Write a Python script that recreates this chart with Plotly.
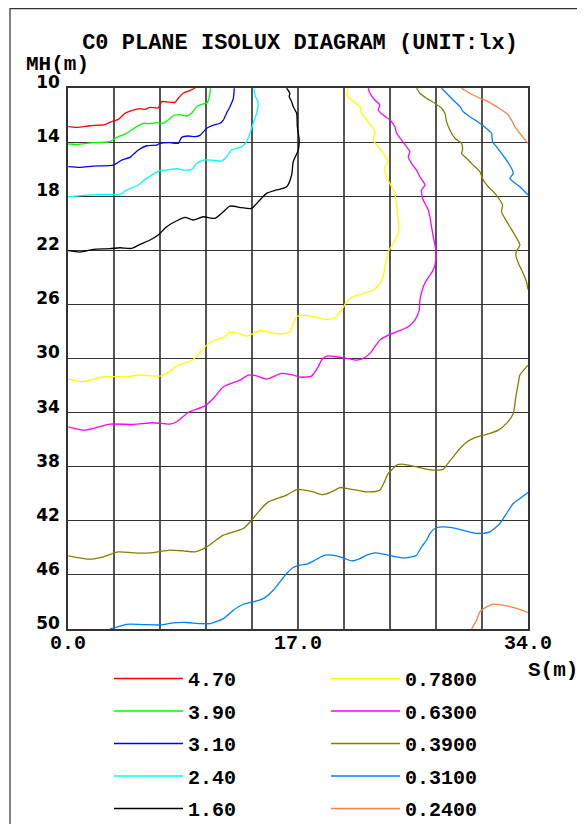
import plotly.graph_objects as go

# ---------------- data ----------------
level_labels = ["4.70", "3.90", "3.10", "2.40", "1.60",
                "0.7800", "0.6300", "0.3900", "0.3100", "0.2400"]
level_colors = ["#FF0000", "#00FF00", "#0000FF", "#00FFFF", "#000000",
                "#FFFF00", "#FF00FF", "#808000", "#0080FF", "#FF8040"]

s_470 = [0.02, 0.64, 1.63, 2.73, 3.10, 3.72, 4.21, 4.70, 5.32, 5.69, 6.06, 6.67, 6.92, 7.41, 7.91, 8.15, 8.52, 9.01, 9.38]
mh_470 = [12.86, 12.91, 12.79, 12.71, 12.54, 12.32, 11.87, 11.68, 11.53, 11.58, 11.43, 11.48, 11.01, 11.04, 11.06, 10.76, 10.39, 10.20, 10.02]

s_390 = [0.02, 0.64, 1.87, 3.10, 3.60, 4.33, 5.07, 5.57, 6.06, 6.55, 7.04, 7.41, 7.78, 8.28, 8.77, 9.14, 9.51, 10.00, 10.25, 10.42, 10.54]
mh_390 = [14.14, 14.17, 14.04, 13.97, 13.65, 13.35, 12.86, 12.61, 12.64, 12.56, 12.61, 12.37, 12.05, 11.97, 12.07, 11.87, 11.38, 11.18, 11.13, 10.76, 10.02]

s_310 = [0.02, 0.89, 1.87, 3.35, 3.97, 4.58, 5.20, 5.81, 6.55, 6.80, 7.54, 8.15, 8.40, 8.89, 9.38, 9.75, 10.25, 10.74, 11.23, 11.48, 11.72, 11.97, 12.22, 12.29]
mh_310 = [15.82, 15.87, 15.77, 15.70, 15.33, 15.13, 14.59, 14.27, 14.22, 14.09, 14.04, 14.09, 13.65, 13.55, 13.60, 13.50, 12.98, 12.74, 12.61, 12.37, 11.87, 11.38, 10.76, 10.02]

s_240 = [0.02, 0.89, 2.36, 3.84, 4.33, 5.20, 5.81, 6.80, 7.29, 8.03, 8.52, 9.14, 9.51, 10.00, 10.62, 11.35, 11.72, 12.09, 12.83, 13.20, 13.45, 13.69, 13.94, 14.06, 13.82, 13.74]
mh_240 = [18.04, 17.96, 17.86, 17.86, 17.54, 17.17, 16.68, 16.11, 16.07, 15.97, 16.07, 16.02, 15.57, 15.33, 15.33, 15.40, 15.08, 14.59, 14.34, 13.97, 13.35, 12.61, 11.87, 11.13, 10.52, 10.02]

s_160 = [0.02, 0.89, 1.87, 3.10, 3.84, 4.70, 5.32, 6.06, 6.67, 7.29, 8.15, 8.65, 9.26, 10.00, 10.86, 11.48, 11.97, 12.83, 13.57, 14.06, 14.68, 15.42, 16.16, 16.53, 16.65, 17.02, 17.09, 16.95, 16.90, 16.65, 16.53, 16.35, 16.40, 16.16]
mh_160 = [22.03, 22.13, 21.93, 21.88, 21.81, 21.86, 21.56, 21.24, 20.87, 20.26, 19.76, 19.57, 19.76, 19.52, 19.64, 19.15, 18.73, 18.85, 18.90, 18.41, 17.79, 17.54, 17.30, 16.43, 15.45, 14.59, 13.85, 12.86, 11.87, 11.38, 11.01, 10.64, 10.39, 10.02]

s_078 = [0.02, 1.13, 2.61, 4.33, 5.32, 6.80, 7.29, 8.03, 9.26, 10.12, 10.74, 11.48, 11.97, 12.46, 13.20, 14.19, 14.93, 15.67, 16.40, 16.65, 16.90, 17.39, 18.13, 18.87, 19.61, 20.22, 20.59, 21.08, 21.82, 22.56, 23.05, 23.30, 23.42, 23.67, 24.04, 24.41, 24.41, 24.29, 24.16, 23.92, 23.55, 23.42, 23.67, 23.30, 22.93, 22.56, 22.68, 22.56, 22.07, 21.70, 21.58, 20.96, 20.59, 20.71]
mh_078 = [31.52, 31.71, 31.35, 31.35, 31.22, 31.30, 31.10, 30.56, 30.07, 29.13, 28.69, 28.44, 28.07, 28.10, 28.34, 27.95, 28.07, 28.19, 28.02, 27.41, 26.91, 26.79, 26.91, 27.09, 27.04, 26.42, 25.80, 25.43, 25.19, 24.94, 24.45, 23.95, 23.22, 22.11, 21.49, 20.75, 19.76, 18.78, 17.79, 17.30, 16.56, 15.82, 15.45, 14.83, 14.34, 13.85, 13.35, 12.98, 12.37, 11.87, 11.38, 10.89, 10.52, 10.02]

s_063 = [0.02, 1.26, 3.10, 4.83, 6.31, 7.54, 8.03, 8.89, 10.12, 10.74, 11.48, 12.71, 13.32, 13.94, 14.68, 15.79, 16.65, 17.14, 18.00, 18.50, 18.74, 19.11, 19.85, 20.59, 21.33, 21.82, 22.32, 22.68, 23.05, 23.67, 24.29, 25.15, 25.64, 25.96, 26.01, 26.26, 26.50, 27.00, 27.19, 27.19, 27.00, 26.87, 26.75, 26.63, 26.26, 26.13, 26.38, 26.01, 25.76, 25.39, 25.15, 25.27, 25.02, 24.66, 24.29, 24.16, 23.79, 23.30, 22.93, 23.05, 22.68, 22.32, 22.19]
mh_063 = [35.05, 35.30, 34.85, 34.88, 34.75, 34.85, 34.68, 33.99, 33.50, 32.96, 32.09, 31.60, 31.23, 31.28, 31.52, 31.10, 31.23, 31.38, 31.30, 30.61, 30.12, 29.82, 29.87, 29.99, 30.12, 29.99, 29.62, 29.13, 28.64, 28.27, 28.02, 27.65, 27.16, 26.42, 25.68, 24.70, 24.20, 23.46, 22.72, 21.98, 21.00, 20.26, 19.52, 19.02, 18.28, 17.54, 17.17, 16.56, 16.07, 15.57, 15.08, 14.71, 14.34, 13.85, 13.35, 12.86, 12.37, 12.00, 11.63, 11.26, 10.89, 10.39, 10.02]

# 0.39: upper-right branch, then lower branch (None separates branches)
s_039 = [25.76, 26.01, 26.50, 27.12, 27.61, 27.86, 27.98, 28.23, 28.60, 29.09, 29.16, 29.09, 29.46, 29.95, 30.44, 30.69, 31.06, 31.55, 31.92, 32.12, 32.04, 32.29, 32.66, 33.03, 33.40, 33.15, 33.10, 33.30, 33.65, 33.89, 34.00,
         None,
         0.02, 1.63, 2.61, 3.72, 4.83, 6.06, 7.54, 8.52, 9.38, 10.25, 11.48, 12.96, 13.57, 14.19, 14.80, 16.16, 16.90, 17.51, 18.13, 18.74, 19.36, 19.73, 20.10, 20.59, 21.33, 22.07, 23.05, 23.67, 23.92, 24.29, 24.66, 25.52, 26.50, 27.00, 27.73, 27.98, 28.47, 28.97, 29.34, 29.95, 30.57, 31.18, 31.80, 32.41, 32.91, 33.10, 33.28, 33.40, 34.00]
mh_039 = [10.02, 10.39, 10.76, 11.13, 11.50, 11.87, 12.49, 13.11, 13.72, 14.09, 14.59, 14.83, 15.20, 15.70, 16.19, 16.80, 17.30, 17.79, 18.28, 18.65, 19.15, 19.64, 20.26, 20.87, 21.61, 22.05, 22.35, 22.97, 23.71, 24.32, 24.90,
          None,
          44.59, 44.84, 44.66, 44.30, 44.37, 44.37, 44.17, 44.22, 44.30, 43.93, 43.06, 42.57, 41.95, 41.21, 40.60, 40.10, 39.69, 39.73, 39.86, 40.06, 39.91, 39.73, 39.54, 39.61, 39.73, 39.86, 39.73, 38.50, 38.25, 37.88, 37.81, 37.96, 38.18, 38.25, 38.20, 37.88, 37.27, 36.65, 36.28, 35.91, 35.71, 35.54, 35.30, 34.80, 34.06, 32.83, 31.84, 31.23, 30.49]

s_031 = [27.61, 27.98, 28.47, 28.97, 29.21, 29.70, 30.44, 31.06, 31.31, 31.38, 31.67, 32.04, 32.41, 32.78, 32.91, 32.66, 32.91, 33.40, 34.00,
         None,
         3.10, 3.47, 4.33, 5.57, 6.80, 7.78, 8.77, 9.75, 10.49, 11.48, 12.22, 12.96, 13.69, 14.43, 15.17, 16.16, 16.65, 17.14, 17.76, 18.37, 19.00, 19.85, 20.47, 20.96, 21.58, 22.07, 22.68, 23.30, 24.04, 24.78, 25.39, 25.76, 26.13, 26.50, 26.75, 27.12, 27.61, 28.47, 29.21, 29.95, 30.44, 31.18, 31.92, 32.41, 32.91, 33.40, 34.00]
mh_031 = [10.02, 10.39, 10.89, 11.38, 11.75, 12.12, 12.61, 13.11, 13.35, 13.97, 14.34, 14.83, 15.33, 15.94, 16.31, 16.68, 16.93, 17.30, 17.91,
          None,
          50.00, 49.90, 49.65, 49.67, 49.70, 49.55, 49.52, 49.60, 49.60, 49.23, 48.61, 48.17, 47.99, 47.75, 47.13, 45.90, 45.45, 45.28, 45.16, 44.84, 44.54, 44.59, 44.79, 44.96, 44.79, 44.54, 44.37, 44.47, 44.62, 44.74, 44.67, 44.54, 43.93, 43.44, 42.94, 42.57, 42.45, 42.52, 42.70, 42.89, 42.94, 42.82, 42.20, 41.46, 40.72, 40.35, 39.90]

s_024 = [29.09, 29.70, 30.44, 31.06, 31.67, 32.41, 32.78, 33.03, 33.40, 33.89, 34.00,
         None,
         29.83, 30.20, 30.44, 30.94, 31.43, 32.41, 33.15, 34.00]
mh_024 = [10.02, 10.39, 10.76, 11.01, 11.38, 11.87, 12.37, 12.86, 13.35, 13.97, 14.10,
          None,
          50.00, 49.35, 48.73, 48.36, 48.16, 48.29, 48.48, 48.77]

series_s = [s_470, s_390, s_310, s_240, s_160, s_078, s_063, s_039, s_031, s_024]
series_mh = [mh_470, mh_390, mh_310, mh_240, mh_160, mh_078, mh_063, mh_039, mh_031, mh_024]

x_grid_vals = [0, 3.4, 6.8, 10.2, 13.6, 17.0, 20.4, 23.8, 27.2, 30.6, 34.0]
x_tick_text = ["0.0", "", "", "", "", "17.0", "", "", "", "", "34.0"]
y_tick_vals = [10, 14, 18, 22, 26, 30, 34, 38, 42, 46, 50]
y_tick_text = ["10", "14", "18", "22", "26", "30", "34", "38", "42", "46", "50"]

# ---------------- figure ----------------
FONT = "Liberation Mono, Courier New, monospace"
SANS = "DejaVu Sans, Arial, sans-serif"
OFF = 8                      # page body margin
W, H = 585 - 2 * OFF, 832 - 2 * OFF
L, T, PW, PH = 68 - OFF, 88 - OFF, 460, 541
R, B = W - L - PW, H - T - PH


def px_to_paper(sx, sy):
    """screen pixel -> paper coords"""
    fx, fy = sx - OFF, sy - OFF
    return (fx - L) / PW, (T + PH - fy) / PH


fig = go.Figure()
for i, (lab, col, sx, my) in enumerate(zip(level_labels, level_colors, series_s, series_mh)):
    fig.add_trace(go.Scatter(
        x=sx, y=my, mode="lines", name=lab,
        line=dict(color=col, width=1.3, shape="spline", smoothing=0.6),
        connectgaps=False, legendgroup=lab,
        legend="legend" if i < 5 else "legend2",
    ))

ITEMW = 69
leg_common = dict(
    font=dict(family=FONT, size=20, color="black", weight="bold"),
    bgcolor="rgba(0,0,0,0)", borderwidth=0, tracegroupgap=3.5,
    itemwidth=ITEMW, xanchor="left", yanchor="top", orientation="v",
    traceorder="grouped",
)
lx1, ly1 = px_to_paper(187 - (ITEMW + 9), 659)
lx2, _ = px_to_paper(404 - (ITEMW + 9), 659)

bx0, by0 = px_to_paper(10, 8.6)
bx1, by1 = px_to_paper(620, 900)

mx, my_ = px_to_paper(57, 64)
sxp, syp = px_to_paper(552.5, 670.5)

fig.update_layout(
    width=W, height=H,
    margin=dict(l=L, r=R, t=T, b=B, autoexpand=False),
    paper_bgcolor="white", plot_bgcolor="white",
    font=dict(family=FONT, size=20, color="black", weight="bold"),
    title=dict(text="C0 PLANE ISOLUX DIAGRAM (UNIT:lx)", x=px_to_paper(300, 0)[0], xref="paper",
               xanchor="center", y=1 - (41.5 - OFF) / H, yanchor="middle",
               font=dict(family=FONT, size=22, color="black", weight="bold")),
    xaxis=dict(range=[0, 34], tickvals=x_grid_vals, ticktext=x_tick_text,
               showgrid=True, gridcolor="#555555", gridwidth=1.5,
               showline=True, linecolor="#333333", linewidth=1.5, mirror=True,
               ticks="", zeroline=False, tickangle=0, ticklabelstandoff=-6,
               tickfont=dict(family=FONT, size=20, color="black", weight="bold")),
    yaxis=dict(range=[50, 10], tickvals=y_tick_vals, ticktext=y_tick_text,
               showgrid=True, gridcolor="#333333", gridwidth=1.2,
               showline=True, linecolor="#333333", linewidth=1.5, mirror=True,
               ticks="", zeroline=False, ticklabelshift=6, ticklabelstandoff=3,
               tickfont=dict(family=SANS, size=17, color="black", weight="bold")),
    legend=dict(x=lx1, y=ly1, **leg_common),
    legend2=dict(x=lx2, y=ly1, **leg_common),
    showlegend=True,
    shapes=[dict(type="rect", xref="paper", yref="paper", x0=bx0, y0=by0, x1=bx1, y1=by1,
                 line=dict(color="#333333", width=1.2), layer="below")],
    annotations=[
        dict(text="MH(m)", xref="paper", yref="paper", x=mx, y=my_,
             showarrow=False, xanchor="center", yanchor="middle",
             font=dict(family=FONT, size=21, color="black", weight="bold")),
        dict(text="S(m)", xref="paper", yref="paper", x=sxp, y=syp,
             showarrow=False, xanchor="center", yanchor="middle",
             font=dict(family=FONT, size=21, color="black", weight="bold")),
    ],
)

fig.write_html("out.html")
